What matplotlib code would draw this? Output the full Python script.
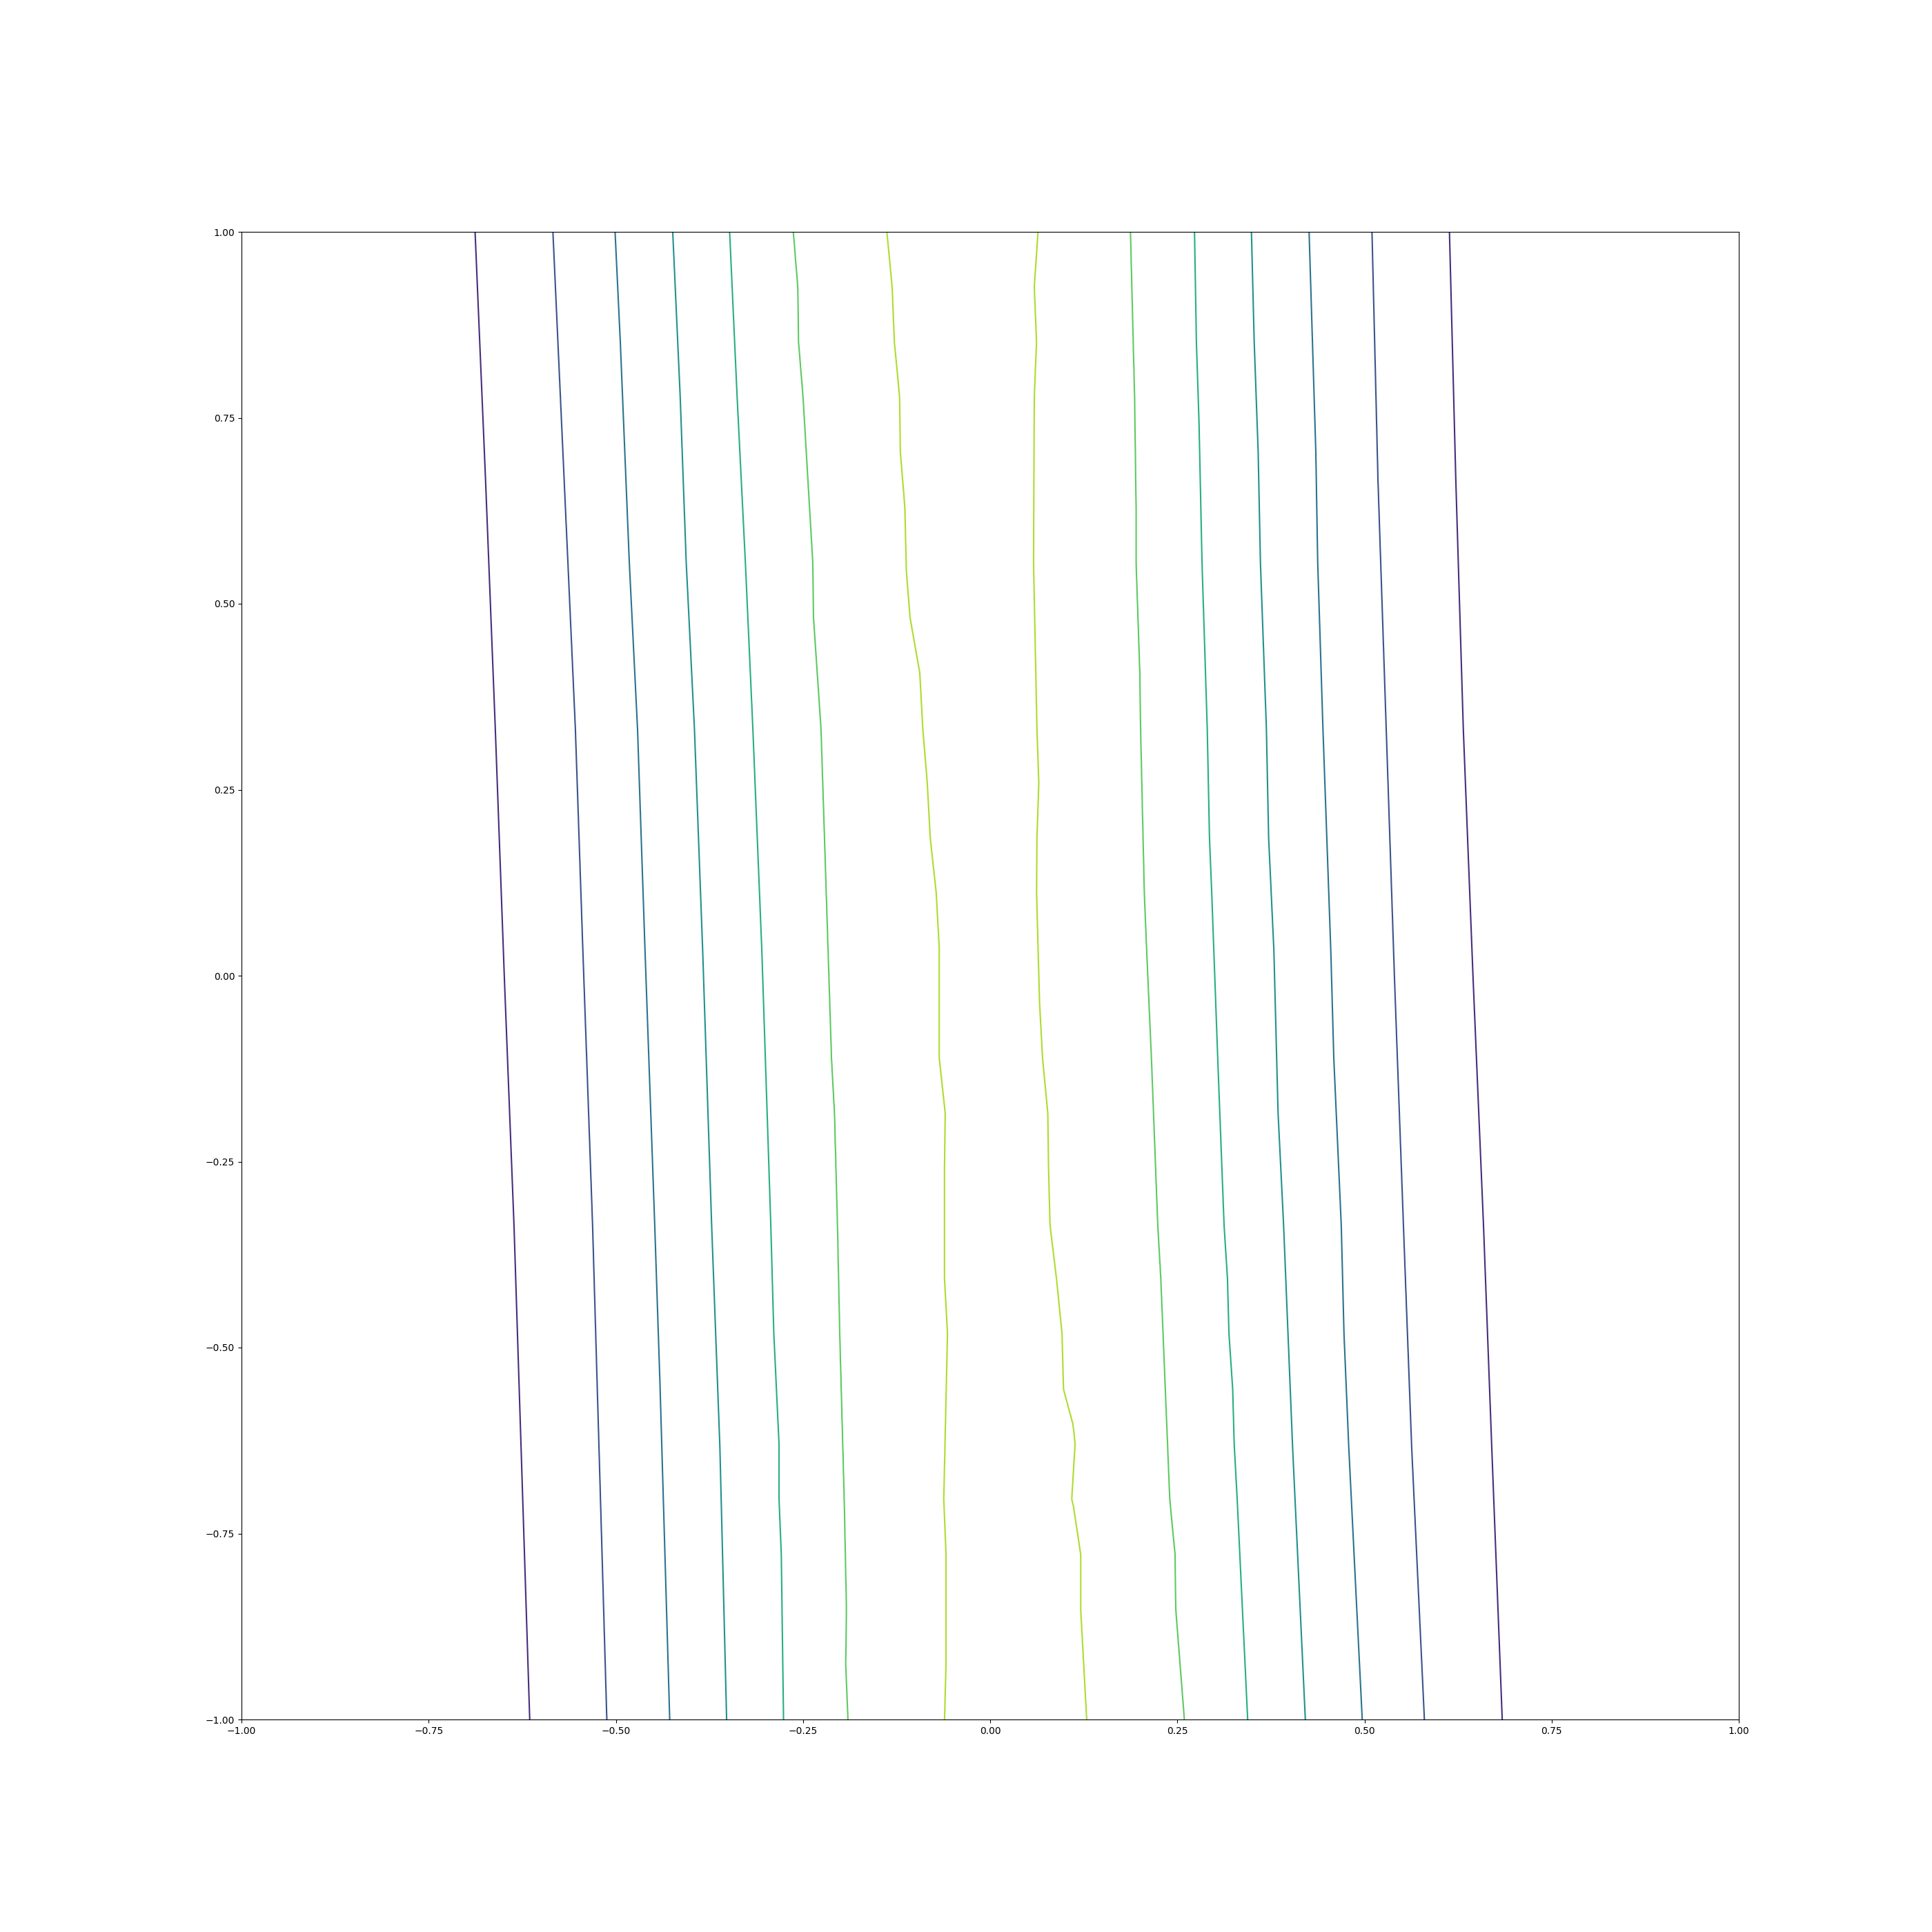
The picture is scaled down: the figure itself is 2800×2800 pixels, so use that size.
import numpy as np
import matplotlib
matplotlib.use("Agg")
import matplotlib.pyplot as plt
from matplotlib.colors import Normalize

# Contour levels drawn (colour index on a 0..8 viridis scale)
levels = [1, 2, 3, 4, 5, 6, 7]

# Left flank of the ridge (levels 1..7, x positions read at y values)
l1_y = [1.0, 0.666, 0.332, 0.0, -0.336, -1.0]
l1_x = [-0.688, -0.674, -0.661, -0.649, -0.636, -0.615]
l2_y = [1.0, 0.778, 0.556, 0.332, 0.034, -0.336, -1.0]
l2_x = [-0.584, -0.574, -0.564, -0.554, -0.544, -0.531, -0.512]
l3_y = [1.0, 0.852, 0.556, 0.332, 0.034, -0.336, -0.549, -1.0]
l3_x = [-0.501, -0.494, -0.482, -0.471, -0.461, -0.448, -0.441, -0.428]
l4_y = [1.0, 0.778, 0.556, 0.332, 0.034, -0.336, -0.634, -1.0]
l4_x = [-0.424, -0.414, -0.406, -0.395, -0.384, -0.372, -0.361, -0.352]
l5_y = [1.0, 0.778, 0.556, 0.332, 0.034, -0.336, -0.481, -0.630, -0.704, -0.778, -1.0]
l5_x = [-0.348, -0.338, -0.327, -0.317, -0.305, -0.293, -0.289, -0.282, -0.282, -0.279, -0.276]
l6_y = [1.0, 0.926, 0.852, 0.778, 0.556, 0.481, 0.332, 0.111, -0.111, -0.185, -0.336,
        -0.481, -0.704, -0.852, -0.926, -1.0]
l6_x = [-0.263, -0.257, -0.256, -0.250, -0.237, -0.236, -0.226, -0.219, -0.212, -0.208, -0.204,
        -0.201, -0.195, -0.192, -0.193, -0.190]
l7_y = [1.0, 0.926, 0.852, 0.778, 0.704, 0.630, 0.544, 0.481, 0.407, 0.332, 0.259, 0.185,
        0.111, 0.037, -0.037, -0.111, -0.185, -0.259, -0.333, -0.407, -0.481, -0.704,
        -0.778, -0.926, -1.0]
l7_x = [-0.138, -0.131, -0.128, -0.121, -0.120, -0.114, -0.112, -0.107, -0.094, -0.090, -0.084, -0.080,
        -0.072, -0.068, -0.068, -0.068, -0.060, -0.061, -0.061, -0.061, -0.057, -0.062,
        -0.059, -0.059, -0.061]

# Right flank of the ridge (levels 7..1)
r7_y = [1.0, 0.926, 0.852, 0.778, 0.556, 0.332, 0.259, 0.185, 0.111, 0.037, -0.037, -0.111,
        -0.185, -0.259, -0.336, -0.407, -0.481, -0.556, -0.604, -0.630, -0.704, -0.711,
        -0.778, -0.852, -1.0]
r7_x = [0.064, 0.059, 0.062, 0.059, 0.058, 0.0625, 0.065, 0.0625, 0.062, 0.064, 0.066, 0.070,
        0.077, 0.078, 0.080, 0.0886, 0.096, 0.098, 0.111, 0.1135, 0.109, 0.111,
        0.121, 0.121, 0.129]
r6_y = [1.0, 0.778, 0.630, 0.556, 0.407, 0.332, 0.111, 0.037, -0.111, -0.336, -0.407,
        -0.704, -0.778, -0.852, -1.0]
r6_x = [0.1875, 0.193, 0.195, 0.195, 0.200, 0.201, 0.206, 0.209, 0.2155, 0.224, 0.228,
        0.240, 0.247, 0.248, 0.2595]
r5_y = [1.0, 0.852, 0.744, 0.556, 0.332, 0.185, 0.111, -0.111, -0.336, -0.407, -0.481,
        -0.556, -0.630, -0.704, -1.0]
r5_x = [0.273, 0.2755, 0.279, 0.283, 0.290, 0.293, 0.296, 0.304, 0.3125, 0.317, 0.319,
        0.324, 0.326, 0.330, 0.344]
r4_y = [1.0, 0.852, 0.704, 0.556, 0.332, 0.185, 0.034, -0.185, -0.336, -0.634, -1.0]
r4_x = [0.349, 0.3527, 0.358, 0.361, 0.369, 0.372, 0.379, 0.3846, 0.392, 0.404, 0.421]
r3_y = [1.0, 0.704, 0.556, 0.332, 0.034, -0.111, -0.336, -0.481, -0.634, -1.0]
r3_x = [0.426, 0.435, 0.4375, 0.4445, 0.455, 0.459, 0.469, 0.4726, 0.479, 0.497]
r2_y = [1.0, 0.666, 0.332, -0.002, -0.336, -0.634, -1.0]
r2_x = [0.510, 0.518, 0.529, 0.540, 0.552, 0.563, 0.580]
r1_y = [1.0, 0.666, 0.332, -0.002, -0.336, -0.634, -1.0]
r1_x = [0.6135, 0.622, 0.632, 0.645, 0.659, 0.670, 0.684]

left_lines = [(l1_y, l1_x), (l2_y, l2_x), (l3_y, l3_x), (l4_y, l4_x),
              (l5_y, l5_x), (l6_y, l6_x), (l7_y, l7_x)]
right_lines = [(r7_y, r7_x), (r6_y, r6_x), (r5_y, r5_x), (r4_y, r4_x),
               (r3_y, r3_x), (r2_y, r2_x), (r1_y, r1_x)]

# Build the gridded field whose iso-lines pass through the read positions
ys = np.linspace(-1, 1, 217)
xs = np.linspace(-1, 1, 2001)


def line_x_at(line, y):
    yy, xx = line
    return np.interp(y, yy[::-1], xx[::-1])


Z = np.zeros((ys.size, xs.size))
for i, y in enumerate(ys):
    lx = [line_x_at(l, y) for l in left_lines]
    rx = [line_x_at(l, y) for l in right_lines]
    # continue the outer slopes so the field has no sharp bend at the outer lines
    z_left = levels[0] - (lx[0] + 1.0) / (lx[1] - lx[0])
    z_right = levels[0] - (1.0 - rx[-1]) / (rx[-1] - rx[-2])
    peak = 0.5 * (lx[-1] + rx[0])
    pos = [-1.0] + lx + [peak] + rx + [1.0]
    val = [z_left] + levels + [7.5] + levels[::-1] + [z_right]
    Z[i] = np.interp(xs, pos, val)

X, Y = np.meshgrid(xs, ys)

fig, ax = plt.subplots(figsize=(28, 28), dpi=100)
ax.contour(X, Y, Z, levels=levels, cmap="viridis", norm=Normalize(vmin=0, vmax=8),
           linewidths=1.5)
ax.set_xlim(-1, 1)
ax.set_ylim(-1, 1)
ax.set_xticks([-1.0, -0.75, -0.5, -0.25, 0.0, 0.25, 0.5, 0.75, 1.0])
ax.set_yticks([-1.0, -0.75, -0.5, -0.25, 0.0, 0.25, 0.5, 0.75, 1.0])
fig.savefig("out.png", dpi=100)
